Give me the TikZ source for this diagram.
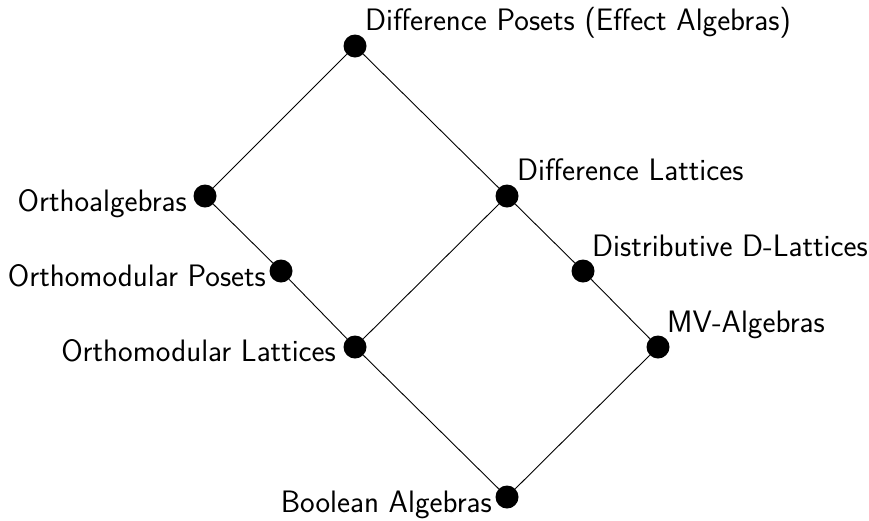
\documentclass[tikz,border=0pt]{standalone}
\begin{document}
\begin{tikzpicture}[x=1pt,y=-1pt,
  dot/.style={circle,fill=black,inner sep=0pt,minimum size=23pt},
  lbl/.style={inner sep=0pt,font=\fontsize{31}{36}\selectfont\sffamily},
  edge/.style={line width=0.9pt}]
\useasboundingbox (0,0) rectangle (869,520);
\node[dot] (dp) at (355,46) {};
\node[dot] (oa) at (205,196) {};
\node[dot] (dl) at (507,196) {};
\node[dot] (op) at (281,271) {};
\node[dot] (dd) at (583,271) {};
\node[dot] (ol) at (355,347) {};
\node[dot] (mv) at (658,347) {};
\node[dot] (ba) at (507,497) {};
\draw[edge] (dp) -- (oa);
\draw[edge] (dp) -- (dl);
\draw[edge] (oa) -- (op);
\draw[edge] (op) -- (ol);
\draw[edge] (ol) -- (dl);
\draw[edge] (dl) -- (dd);
\draw[edge] (dd) -- (mv);
\draw[edge] (ol) -- (ba);
\draw[edge] (mv) -- (ba);
\node[lbl,anchor=base west] (tdp) at (365,30) {Difference Posets (Effect Algebras)};
\node[lbl,anchor=base east] (toa) at (187,211) {Orthoalgebras};
\node[lbl,anchor=base east] (top) at (266,286) {Orthomodular Posets};
\node[lbl,anchor=base east] (tol) at (336,361) {Orthomodular Lattices};
\node[lbl,anchor=base east] (tba) at (492,512) {Boolean Algebras};
\node[lbl,anchor=base west] (tdl) at (517,180) {Difference Lattices};
\node[lbl,anchor=base west] (tdd) at (592,256) {Distributive D-Lattices};
\node[lbl,anchor=base west] (tmv) at (667,332) {MV-Algebras};
\end{tikzpicture}
\end{document}
